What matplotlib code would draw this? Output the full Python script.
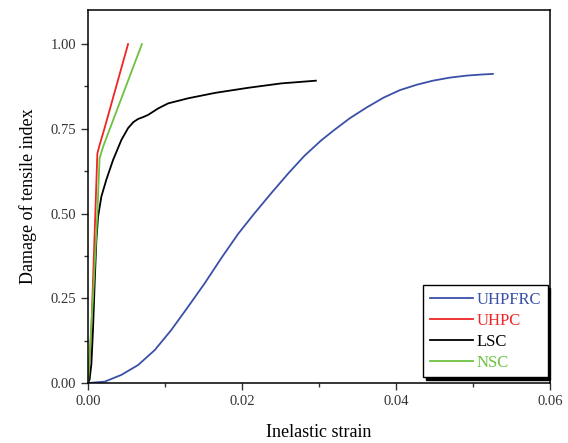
import numpy as np
import matplotlib
matplotlib.use("Agg")
import matplotlib.pyplot as plt
from matplotlib.ticker import MultipleLocator

# UHPFRC (blue)
uhpfrc_x = [0.0, 0.00216, 0.00433, 0.0065, 0.00866, 0.0108, 0.013, 0.01515,
            0.0173, 0.0195, 0.0216, 0.0238, 0.026, 0.0281, 0.0303, 0.0319,
            0.0340, 0.0362, 0.0384, 0.0405, 0.0427, 0.0448, 0.0470, 0.0492,
            0.0510, 0.0526]
uhpfrc_y = [0.0, 0.004, 0.024, 0.053, 0.097, 0.156, 0.225, 0.294,
            0.368, 0.440, 0.500, 0.560, 0.618, 0.670, 0.716, 0.745,
            0.781, 0.813, 0.842, 0.864, 0.880, 0.892, 0.901, 0.907,
            0.910, 0.912]

# UHPC (red)
uhpc_x = [0.0, 0.00043, 0.00087, 0.00121, 0.0015, 0.00216, 0.0052]
uhpc_y = [0.0, 0.156, 0.451, 0.677, 0.702, 0.753, 1.0]

# LSC (black)
lsc_x = [0.0, 0.0002, 0.00043, 0.00065, 0.00087, 0.00108, 0.0013, 0.00173,
         0.00238, 0.00325, 0.00433, 0.0052, 0.0059, 0.0065, 0.0072, 0.0078,
         0.0091, 0.0104, 0.013, 0.0165, 0.0208, 0.0251, 0.0296]
lsc_y = [0.0, 0.01, 0.055, 0.16, 0.30, 0.42, 0.49, 0.55,
         0.60, 0.658, 0.717, 0.752, 0.770, 0.779, 0.785, 0.791,
         0.810, 0.825, 0.840, 0.856, 0.871, 0.884, 0.892]

# NSC (green)
nsc_x = [0.0, 0.00065, 0.00121, 0.0015, 0.00195, 0.0028, 0.0070]
nsc_y = [0.0, 0.255, 0.50, 0.663, 0.697, 0.748, 1.0]

plt.rcParams['font.family'] = ['Liberation Serif', 'DejaVu Serif']

fig = plt.figure(figsize=(5.68, 4.43), dpi=100)
ax = fig.add_axes([0.155, 0.1354, 0.813, 0.8416])

lw = 1.3
ax.plot(uhpfrc_x, uhpfrc_y, color='#3a50a8', lw=lw, label='UHPFRC')
ax.plot(uhpc_x, uhpc_y, color='#f02424', lw=lw, label='UHPC')
ax.plot(lsc_x, lsc_y, color='black', lw=lw, label='LSC')
ax.plot(nsc_x, nsc_y, color='#6cc23f', lw=lw, label='NSC')

ax.set_xlim(0, 0.06)
ax.set_ylim(0, 1.1)
ax.xaxis.set_major_locator(MultipleLocator(0.02))
ax.xaxis.set_minor_locator(MultipleLocator(0.01))
ax.yaxis.set_major_locator(MultipleLocator(0.25))
ax.yaxis.set_minor_locator(MultipleLocator(0.125))
ax.xaxis.set_major_formatter(plt.FormatStrFormatter('%.2f'))
ax.yaxis.set_major_formatter(plt.FormatStrFormatter('%.2f'))
ax.tick_params(which='major', direction='out', length=5, width=1, labelsize=10.5, colors='#333333')
ax.tick_params(which='minor', direction='out', length=3, width=1, colors='#333333')
for s in ax.spines.values():
    s.set_linewidth(1.1)

ax.set_xlabel('Inelastic strain', fontsize=13, labelpad=12)
ax.set_ylabel('Damage of tensile index', fontsize=13, labelpad=10)

leg = ax.legend(loc='lower right', fontsize=12, frameon=True, fancybox=False,
                shadow={'color': 'black', 'alpha': 1}, borderpad=0.4,
                handlelength=2.6, handletextpad=0.2, labelspacing=0.3,
                borderaxespad=0.35, bbox_to_anchor=(1.008, 0.0))
leg.get_frame().set_edgecolor('black')
leg.get_frame().set_linewidth(1.0)
for t, l in zip(leg.get_texts(), leg.get_lines()):
    t.set_color(l.get_color())

fig.savefig('out.png', dpi=100)
